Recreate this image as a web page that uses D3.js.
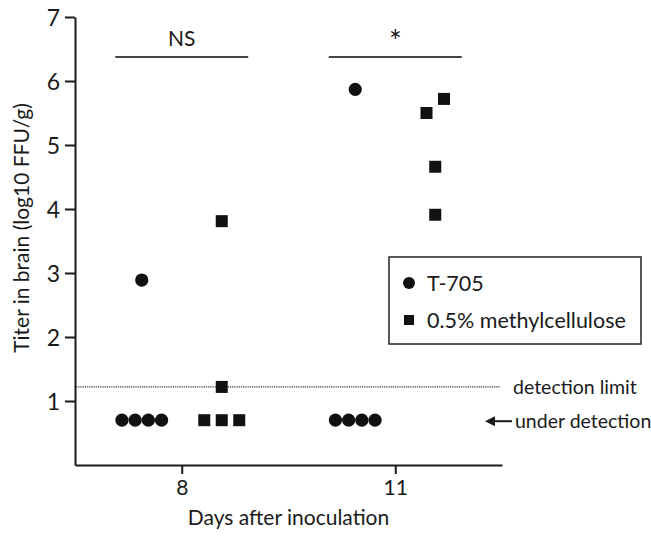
<!DOCTYPE html>
<html>
<head>
<meta charset="utf-8">
<script src="https://cdn.jsdelivr.net/npm/d3@7"></script>
<style>
  body { margin: 0; background: #fff; }
  text { font-family: Lato, "Open Sans", sans-serif; fill: #1a1a1a; }
</style>
</head>
<body>
<svg id="chart" width="651" height="536"></svg>
<script>
// values (log10 FFU/g)
const days = ["8", "11"];
const yTicks = [1, 2, 3, 4, 5, 6, 7];
const t705Day8 = [2.89, 0.7, 0.7, 0.7, 0.7];
const t705Day11 = [5.87, 0.7, 0.7, 0.7, 0.7];
const mcDay8 = [3.81, 1.22, 0.7, 0.7, 0.7];
const mcDay11 = [5.72, 5.5, 4.66, 3.91];
const mcDay11Jitter = [0.5, -0.5, 0, 0];   // column scatter offsets, in marker slots
const detectionLimit = 1.22;
const underDetection = 0.7;
const sigLabels = ["NS", "*"];

const svg = d3.select("#chart");

const x = d3.scalePoint().domain(days).range([75, 502]).padding(0.5);
const y = d3.scaleLinear().domain([0, 7]).range([465, 17]);
// treatment groups sit either side of each day tick
const group = d3.scalePoint().domain(["t705", "mc"]).range([-40, 40]);

// build point records
const points = [];
const addGroup = function(values, day, grp, jitter) {
    const under = values.filter(v => v === underDetection).length;
    let k = 0;
    values.forEach((v, i) => {
        let slot = jitter ? jitter[i] : 0;
        if (v === underDetection) {
            slot = k - (under - 1) / 2;
            k++;
        }
        points.push({ day: day, grp: grp, value: v, slot: slot });
    });
};
addGroup(t705Day8, "8", "t705");
addGroup(t705Day11, "11", "t705");
addGroup(mcDay8, "8", "mc");
addGroup(mcDay11, "11", "mc", mcDay11Jitter);

const slotWidth = { t705: 13.2, mc: 17.5 };
const px = d => x(d.day) + group(d.grp) + d.slot * slotWidth[d.grp];

// axes
const yAxis = svg.append("g")
    .attr("transform", "translate(75,0)")
    .call(d3.axisLeft(y).tickValues(yTicks).tickFormat(d3.format("d"))
        .tickSize(10).tickSizeOuter(0).tickPadding(5));
yAxis.selectAll("text").style("font-size", "23px").attr("dy", "0.36em");

const xAxis = svg.append("g")
    .attr("transform", "translate(0,465)")
    .call(d3.axisBottom(x).tickSize(9).tickSizeOuter(0).tickPadding(6));
xAxis.selectAll("text").style("font-size", "21px");

svg.selectAll(".domain, .tick line")
    .attr("stroke", "#1a1a1a")
    .attr("stroke-width", 2);

// axis titles
svg.append("text")
    .attr("transform", "translate(29,228) rotate(-90)")
    .attr("text-anchor", "middle")
    .style("font-size", "21px")
    .text("Titer in brain (log10 FFU/g)");

svg.append("text")
    .attr("x", (75 + 502) / 2)
    .attr("y", 525)
    .attr("text-anchor", "middle")
    .style("font-size", "21px")
    .text("Days after inoculation");

// detection limit
svg.append("line")
    .attr("x1", 76).attr("x2", 500)
    .attr("y1", y(detectionLimit)).attr("y2", y(detectionLimit))
    .attr("stroke", "#333")
    .attr("stroke-width", 1.2)
    .attr("stroke-dasharray", "1.2,1");

svg.append("text")
    .attr("x", 513).attr("y", y(detectionLimit))
    .attr("dy", "0.35em")
    .style("font-size", "19.5px")
    .text("detection limit");

// under detection arrow
const ay = y(underDetection) + 1;
svg.append("line")
    .attr("x1", 492).attr("x2", 512)
    .attr("y1", ay).attr("y2", ay)
    .attr("stroke", "#1a1a1a").attr("stroke-width", 2);
svg.append("path")
    .attr("d", `M485,${ay} L495,${ay - 5} L495,${ay + 5} Z`)
    .attr("fill", "#1a1a1a");
svg.append("text")
    .attr("x", 515).attr("y", ay)
    .attr("dy", "0.35em")
    .style("font-size", "19.5px")
    .text("under detection");

// significance bars
const sig = svg.selectAll("g.sig")
    .data(days)
    .enter()
    .append("g")
    .attr("class", "sig")
    .attr("transform", d => "translate(" + x(d) + ",0)");
sig.append("line")
    .attr("x1", -66.5).attr("x2", 66.5)
    .attr("y1", 57).attr("y2", 57)
    .attr("stroke", "#444").attr("stroke-width", 2);
sig.append("text")
    .attr("y", (d, i) => i === 0 ? 46 : 52)
    .attr("text-anchor", "middle")
    .style("font-size", (d, i) => i === 0 ? "21px" : "30px")
    .text((d, i) => sigLabels[i]);

// markers
svg.selectAll("circle.pt")
    .data(points.filter(d => d.grp === "t705"))
    .enter()
    .append("circle")
    .attr("class", "pt")
    .attr("cx", px)
    .attr("cy", d => y(d.value))
    .attr("r", 6.6)
    .attr("fill", "#111");

const sq = 12;
svg.selectAll("rect.pt")
    .data(points.filter(d => d.grp === "mc"))
    .enter()
    .append("rect")
    .attr("class", "pt")
    .attr("x", d => px(d) - sq / 2)
    .attr("y", d => y(d.value) - sq / 2)
    .attr("width", sq)
    .attr("height", sq)
    .attr("fill", "#111");

// legend
const legend = svg.append("g").attr("transform", "translate(389,257)");
legend.append("rect")
    .attr("width", 252).attr("height", 87)
    .attr("fill", "none")
    .attr("stroke", "#222")
    .attr("stroke-width", 1.5);
const items = [{ grp: "t705", label: "T-705" }, { grp: "mc", label: "0.5% methylcellulose" }];
const li = legend.selectAll("g.item")
    .data(items)
    .enter()
    .append("g")
    .attr("class", "item")
    .attr("transform", (d, i) => "translate(20," + (26 + i * 37) + ")");
li.filter(d => d.grp === "t705").append("circle").attr("r", 6).attr("fill", "#111");
li.filter(d => d.grp === "mc").append("rect")
    .attr("x", -5).attr("y", -5).attr("width", 10).attr("height", 10).attr("fill", "#111");
li.append("text")
    .attr("x", 18)
    .attr("dy", "0.35em")
    .style("font-size", "21.5px")
    .text(d => d.label);
</script>
</body>
</html>
